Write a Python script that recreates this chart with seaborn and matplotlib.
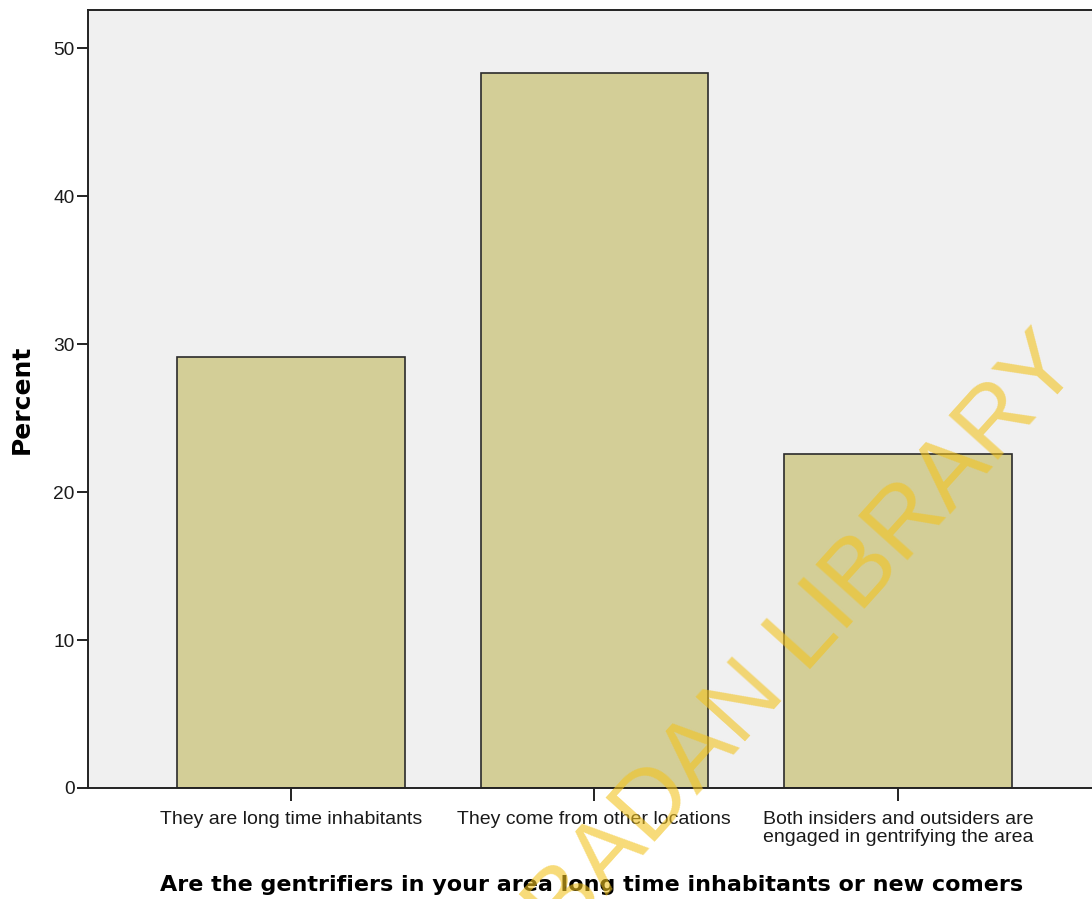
import matplotlib
matplotlib.use("Agg")
import matplotlib.pyplot as plt
import seaborn as sns
import pandas as pd

# values
categories = ["They are long time inhabitants",
              "They come from other locations",
              "Both insiders and outsiders are\nengaged in gentrifying the area"]
percents = [29.1, 48.3, 22.6]
yticks = [0, 10, 20, 30, 40, 50]

df = pd.DataFrame({"answer": categories, "percent": percents})

sns.set_style("white")
plt.rcParams["font.family"] = ["Liberation Sans", "DejaVu Sans"]

W, H = 1092, 899
fig = plt.figure(figsize=(W / 100, H / 100), dpi=100)
ax = fig.add_axes([88 / W, (H - 788) / H, (W - 88) / W + 0.003, (788 - 10) / H])
ax.set_facecolor("#f0f0f0")

sns.barplot(data=df, x="answer", y="percent", color="#d3ce97", saturation=1,
            edgecolor="#2b2b2b", linewidth=1.2, width=0.75, ax=ax)

ax.set_xlim(-0.668, 2.65)
ax.set_ylim(0, 52.57)
ax.set_yticks(yticks)

for side in ["left", "bottom", "top"]:
    ax.spines[side].set_visible(True)
    ax.spines[side].set_color("#222222")
    ax.spines[side].set_linewidth(1.4)
ax.spines["right"].set_visible(False)

ax.tick_params(axis="y", direction="out", length=8, width=1.4, color="#222222",
               labelsize=13.8, pad=1.5, left=True, labelcolor="#1a1a1a")
ax.tick_params(axis="x", direction="out", length=9, width=1.4, color="#222222",
               labelsize=14, pad=7.5, bottom=True, labelcolor="#1a1a1a")
for lab in ax.get_xticklabels():
    lab.set_linespacing(1.05)

ax.set_ylabel("Percent", fontsize=18, fontweight="bold", family="DejaVu Sans",
              color="black")
ax.yaxis.set_label_coords(-0.054, 0.5)
ax.set_xlabel("Are the gentrifiers in your area long time inhabitants or new comers",
              fontsize=16, fontweight="bold", family="DejaVu Sans", color="black")
ax.xaxis.set_label_coords(0.5, -0.112)

# library watermark across the figure
fig.text(1083 / W, 1 - 366 / H, "IBADAN LIBRARY", fontsize=70, color="#f2c31e",
         alpha=0.6, rotation=48, rotation_mode="anchor", ha="right",
         va="baseline", family="Liberation Sans", zorder=10)

fig.savefig("out.png", dpi=100)
